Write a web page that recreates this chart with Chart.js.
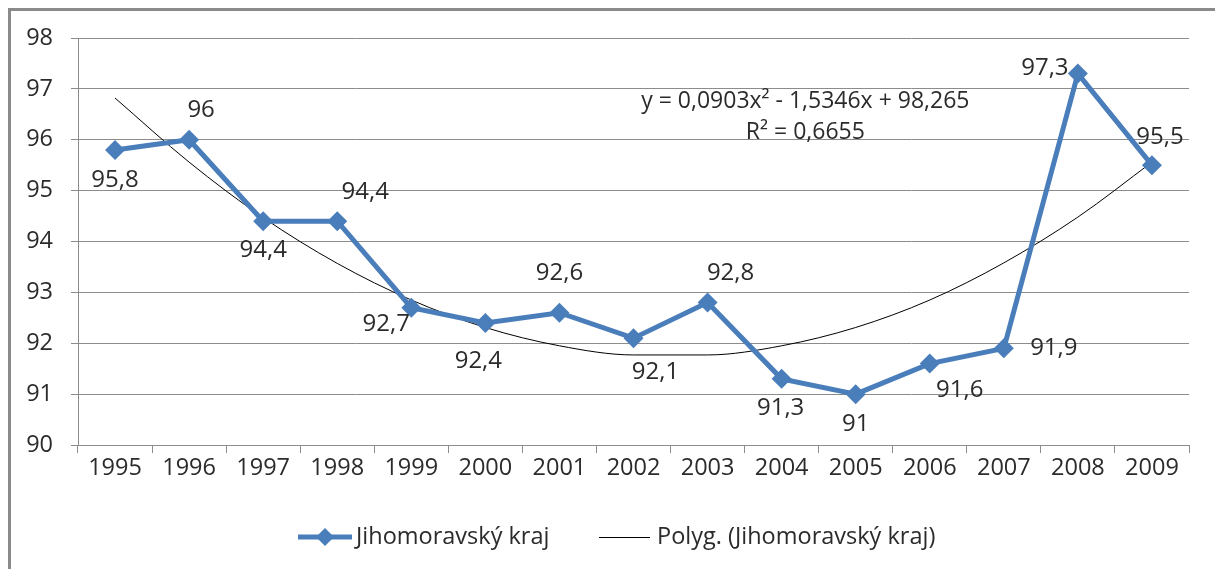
<!DOCTYPE html>
<html>
<head>
<meta charset="utf-8">
<script src="https://cdn.jsdelivr.net/npm/chart.js@4"></script>
<style>
  html, body { margin: 0; padding: 0; background: #fff; }
  #wrap { width: 1215px; height: 569px; }
</style>
</head>
<body>
<div id="wrap"><canvas id="chart" width="1215" height="569"></canvas></div>
<script>
const years = ["1995","1996","1997","1998","1999","2000","2001","2002","2003","2004","2005","2006","2007","2008","2009"];
const values = [95.8, 96, 94.4, 94.4, 92.7, 92.4, 92.6, 92.1, 92.8, 91.3, 91, 91.6, 91.9, 97.3, 95.5];
// polynomial trend (Polyg.) at each year
const trend = [96.82, 95.56, 94.47, 93.57, 92.85, 92.31, 91.95, 91.77, 91.77, 91.95, 92.31, 92.85, 93.58, 94.48, 95.56];
const yTicks = [90, 91, 92, 93, 94, 95, 96, 97, 98];
const seriesName = "Jihomoravský kraj";
const trendName = "Polyg. (Jihomoravský kraj)";
const equation = ["y = 0,0903x² - 1,5346x + 98,265", "R² = 0,6655"];

// where each data label sits relative to its point
const labelOffsets = [
  [0, 30], [12, -30], [0, 29], [28, -29], [-25, 17], [-7, 38], [0, -40], [22, 34],
  [23, -29], [-1, 29], [0, 30], [30, 27], [50, 0], [-33, -5], [8, -28]
];

const FONT = "'Open Sans', sans-serif";
const TXT = "#2b2b2b";
const BLUE = "#4a7ebb";
const GRID = "#8c8c8c";

const fmt = v => String(v).replace(".", ",");

const extras = {
  id: "extras",
  beforeDraw(c) {
    const ctx = c.ctx;
    ctx.save();
    ctx.strokeStyle = "#8a8a8a";
    ctx.lineWidth = 3;
    ctx.beginPath();
    ctx.moveTo(9.5, 600);
    ctx.lineTo(9.5, 9.5);
    ctx.lineTo(1300, 9.5);
    ctx.stroke();
    ctx.restore();
  },
  afterDatasetsDraw(c) {
    const ctx = c.ctx;
    const meta = c.getDatasetMeta(0);
    ctx.save();
    ctx.fillStyle = TXT;
    ctx.font = "24px " + FONT;
    ctx.textAlign = "center";
    ctx.textBaseline = "middle";
    meta.data.forEach((p, i) => {
      const o = labelOffsets[i];
      ctx.fillText(fmt(values[i]), p.x + o[0], p.y + o[1]);
    });

    // trend equation
    const xs = c.scales.x;
    const cx = xs.getPixelForValue(9.32);
    ctx.font = "23px " + FONT;
    ctx.fillText(equation[0], cx, 101);
    ctx.fillText(equation[1], cx, 132);

    // legend
    const ly = 537;
    ctx.strokeStyle = BLUE;
    ctx.lineWidth = 5;
    ctx.beginPath();
    ctx.moveTo(298, ly);
    ctx.lineTo(352, ly);
    ctx.stroke();
    ctx.fillStyle = BLUE;
    ctx.beginPath();
    ctx.moveTo(325, ly - 9);
    ctx.lineTo(334, ly);
    ctx.lineTo(325, ly + 9);
    ctx.lineTo(316, ly);
    ctx.closePath();
    ctx.fill();
    ctx.strokeStyle = "#000";
    ctx.lineWidth = 1;
    ctx.beginPath();
    ctx.moveTo(599, ly + 0.5);
    ctx.lineTo(650, ly + 0.5);
    ctx.stroke();
    ctx.fillStyle = TXT;
    ctx.font = "23.5px " + FONT;
    ctx.textAlign = "left";
    ctx.fillText(seriesName, 356, ly);
    ctx.fillText(trendName, 657, ly);
    ctx.restore();
  }
};

new Chart(document.getElementById("chart"), {
  type: "line",
  data: {
    labels: years,
    datasets: [
      {
        label: seriesName,
        data: values,
        borderColor: BLUE,
        backgroundColor: BLUE,
        borderWidth: 5,
        pointStyle: "rectRot",
        pointRadius: 10,
        pointHoverRadius: 10,
        pointBorderWidth: 0,
        tension: 0,
        order: 1
      },
      {
        label: trendName,
        data: trend,
        borderColor: "#000",
        borderWidth: 1,
        pointRadius: 0,
        cubicInterpolationMode: "monotone",
        order: 2
      }
    ]
  },
  options: {
    responsive: false,
    animation: false,
    layout: { padding: { left: 0, right: 26, top: 38, bottom: 0 } },
    plugins: {
      legend: { display: false },
      tooltip: { enabled: false }
    },
    scales: {
      x: {
        offset: true,
        grid: { offset: true, drawOnChartArea: false, color: GRID, tickLength: 8 },
        border: { color: GRID, width: 1 },
        ticks: { color: TXT, font: { family: FONT, size: 23.5 }, padding: 1, maxRotation: 0 },
        afterFit(s) { s.height = 124; }
      },
      y: {
        min: 90,
        max: 98,
        afterBuildTicks(s) { s.ticks = yTicks.map(v => ({ value: v })); },
        grid: { color: GRID, tickLength: 7 },
        border: { color: GRID, width: 1 },
        ticks: { color: TXT, font: { family: FONT, size: 23.5 }, padding: 18 },
        afterFit(s) { s.width = 78; }
      }
    }
  },
  plugins: [extras]
});
</script>
</body>
</html>
